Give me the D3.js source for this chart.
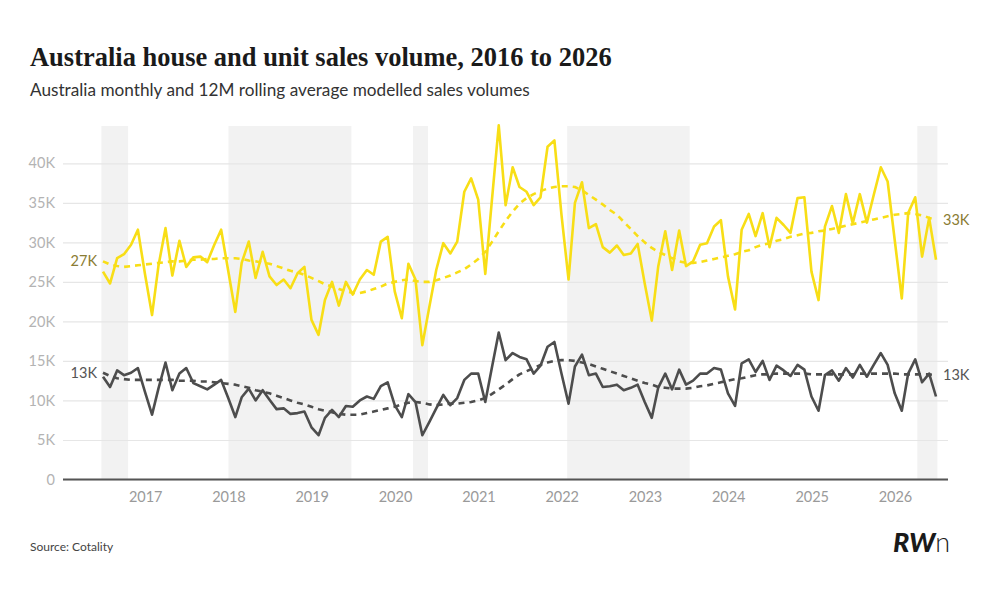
<!DOCTYPE html>
<html>
<head>
<meta charset="utf-8">
<script src="https://cdn.jsdelivr.net/npm/d3@7"></script>
<style>
  body { margin: 0; background: #fff; }
  svg { display: block; font-family: Lato, "Open Sans", sans-serif; }
</style>
</head>
<body>
<div id="chart"></div>
<script>
// monthly series, June 2016 .. June 2026, thousands of sales
const startYear = 2016, startMonth = 6;

const houseUnitTotal = [
  26.3, 24.8, 28.0, 28.5, 29.7, 31.6, 26.0, 20.8, 27.0, 31.8, 25.8, 30.2,
  26.9, 28.1, 28.2, 27.5, 29.7, 31.6, 26.4, 21.2, 27.4, 30.1, 25.5, 28.8,
  25.7, 24.6, 25.3, 24.2, 26.1, 26.9, 20.2, 18.3, 22.7, 25.0, 22.0, 25.0,
  23.4, 25.3, 26.5, 25.9, 30.1, 30.7, 23.8, 20.4, 27.3, 25.3, 17.0, 21.9,
  26.5, 29.9, 28.6, 30.1, 36.4, 38.1, 35.4, 26.0, 35.0, 44.8, 34.7, 39.5,
  37.0, 36.4, 34.7, 35.7, 42.1, 42.9, 33.5, 25.3, 35.0, 37.6, 31.8, 32.3,
  29.4, 28.7, 29.6, 28.4, 28.6, 29.8, 24.8, 20.1, 26.9, 31.4, 26.5, 31.5,
  27.0, 27.6, 29.7, 29.9, 32.0, 32.8, 25.7, 21.5, 31.6, 33.6, 30.8, 33.7,
  29.4, 33.1, 32.2, 31.2, 35.6, 35.7, 26.3, 22.7, 32.0, 34.6, 31.2, 36.1,
  32.4, 36.1, 32.5, 36.0, 39.5, 37.7, 30.3, 22.9, 33.7, 35.7, 28.2, 33.1,
  27.8
];
const houseUnitAvg = [
  27.6, 27.2, 27.0, 26.9, 27.0, 27.1, 27.2, 27.3, 27.4, 27.5, 27.6, 27.6,
  27.7, 27.8, 27.8, 27.9, 27.9, 28.0, 28.0, 28.0, 27.9, 27.7, 27.6, 27.4,
  27.3, 27.0, 26.7, 26.4, 26.2, 25.9, 25.5, 25.1, 24.7, 24.4, 24.1, 23.8,
  23.6, 23.6, 23.8, 24.1, 24.4, 24.8, 25.0, 25.2, 25.3, 25.1, 25.0, 25.0,
  25.2, 25.5, 25.8, 26.2, 26.6, 27.2, 27.9, 28.8, 30.0, 31.4, 32.7, 33.9,
  34.9, 35.6, 36.1, 36.5, 36.8, 37.0, 37.1, 37.1, 37.0, 36.6, 36.0, 35.4,
  34.8, 34.1, 33.5, 32.6, 31.7, 30.8, 30.0, 29.3, 28.8, 28.4, 28.0, 27.6,
  27.4, 27.4, 27.5, 27.7, 27.9, 28.1, 28.3, 28.5, 28.8, 29.0, 29.4, 29.7,
  29.9, 30.2, 30.4, 30.7, 30.9, 31.1, 31.2, 31.4, 31.5, 31.7, 31.9, 32.1,
  32.3, 32.5, 32.7, 32.9, 33.1, 33.3, 33.5, 33.6, 33.7, 33.6, 33.4, 33.1,
  32.8
];
const unitOnly = [
  13.0, 11.7, 13.8, 13.2, 13.5, 14.1, 11.1, 8.2, 11.5, 14.8, 11.3, 13.4,
  14.1, 12.2, 11.8, 11.4, 12.0, 12.6, 10.3, 7.9, 10.4, 11.5, 10.0, 11.3,
  10.1, 8.9, 9.0, 8.3, 8.4, 8.6, 6.6, 5.6, 7.8, 8.8, 7.9, 9.3,
  9.2, 10.0, 10.5, 10.2, 11.8, 12.3, 9.4, 7.9, 10.8, 9.8, 5.6, 7.3,
  9.0, 10.7, 9.4, 10.3, 12.6, 13.4, 13.4, 9.8, 14.0, 18.6, 15.1, 16.0,
  15.5, 15.2, 13.4, 14.4, 16.8, 17.4, 13.4, 9.6, 14.3, 15.8, 13.2, 13.4,
  11.7, 11.8, 12.0, 11.3, 11.6, 12.0, 9.8, 7.8, 11.6, 13.4, 11.4, 13.9,
  12.0, 12.5, 13.4, 13.4, 14.1, 13.9, 10.9, 9.3, 14.7, 15.2, 13.6, 15.0,
  12.6, 14.4, 13.8, 13.1, 14.5, 13.9, 10.5, 8.7, 13.2, 13.8, 12.5, 14.1,
  12.9, 14.5, 13.0, 14.5, 16.0, 14.5, 10.9, 8.7, 13.4, 15.2, 12.3, 13.4,
  10.5
];
const unitAvg = [
  13.5, 13.1, 12.8, 12.7, 12.6, 12.6, 12.6, 12.6, 12.6, 12.6, 12.6, 12.5,
  12.5, 12.5, 12.4, 12.4, 12.3, 12.2, 12.1, 12.0, 11.8, 11.6, 11.3, 11.1,
  10.9, 10.6, 10.3, 10.0, 9.7, 9.5, 9.2, 8.9, 8.7, 8.5, 8.3, 8.2,
  8.2, 8.2, 8.4, 8.6, 8.8, 9.0, 9.2, 9.5, 9.7, 9.8, 9.7, 9.5,
  9.4, 9.5, 9.6, 9.6, 9.7, 9.8, 10.0, 10.3, 10.8, 11.4, 12.0, 12.7,
  13.3, 13.7, 14.1, 14.5, 14.8, 15.0, 15.1, 15.1, 15.0, 14.8, 14.6, 14.3,
  14.0, 13.7, 13.4, 13.1, 12.8, 12.5, 12.2, 12.0, 11.7, 11.6, 11.5, 11.5,
  11.5, 11.6, 11.8, 11.9, 12.1, 12.3, 12.5, 12.7, 12.8, 13.0, 13.2, 13.3,
  13.3, 13.4, 13.4, 13.4, 13.4, 13.4, 13.3, 13.3, 13.3, 13.3, 13.3, 13.3,
  13.3, 13.4, 13.4, 13.4, 13.4, 13.4, 13.4, 13.3, 13.3, 13.3, 13.3, 13.3,
  13.2
];
const yTicks = [0, 5, 10, 15, 20, 25, 30, 35, 40];
const bandStarts = ["2016-06-23", "2018-01-01", "2020-03-20", "2022-01-25", "2026-04-09"];
const bandEnds = ["2016-10-18", "2019-06-24", "2020-05-25", "2023-07-16", "2026-07-06"];
const startLabels = ["27K", "13K"];
const endLabels = ["33K", "13K"];

const W = 1006, H = 610;
const yellow = "#f8de16", grey = "#4d4d4d", olive = "#8a7c33";

const parse = d3.timeParse("%Y-%m-%d");
// plotted at last day of each month
const dates = houseUnitTotal.map((d, i) => new Date(startYear, startMonth + i, 0));

const svg = d3.select("#chart").append("svg")
  .attr("width", W).attr("height", H)
  .style("background", "#fff");

const x = d3.scaleTime().domain(d3.extent(dates)).range([103, 936]);
const y = d3.scaleLinear().domain([0, 45]).range([479.5, 123.8]);
const left = 63, right = 948;

// shaded periods
svg.append("g").selectAll("rect")
  .data(bandStarts.map((s, i) => [parse(s), parse(bandEnds[i])]))
  .join("rect")
  .attr("x", d => x(d[0]))
  .attr("width", d => x(d[1]) - x(d[0]))
  .attr("y", 126)
  .attr("height", y(0) - 126)
  .attr("fill", "#f2f2f2");

// grid + y labels
const yAxis = svg.append("g")
  .attr("transform", `translate(${left},0)`)
  .call(d3.axisLeft(y).tickValues(yTicks)
    .tickSize(-(right - left)).tickPadding(8)
    .tickFormat(d => d === 0 ? "0" : d + "K"));
yAxis.select(".domain").remove();
yAxis.selectAll(".tick line").attr("stroke", "#e6e6e6").attr("stroke-width", 1.2);
yAxis.selectAll(".tick text")
  .attr("fill", "#b3b3b3").style("font-size", "14.5px").style("font-family", "Lato");

// x axis, year labels
const xAxis = svg.append("g")
  .attr("transform", `translate(0,${y(0)})`)
  .call(d3.axisBottom(x).ticks(d3.timeYear.every(1))
    .tickSize(0).tickPadding(12).tickFormat(d3.timeFormat("%Y")));
xAxis.select(".domain").remove();
xAxis.selectAll(".tick text")
  .attr("fill", "#9a9a9a").style("font-size", "14.5px").style("font-family", "Lato");
svg.append("line")
  .attr("x1", left).attr("x2", right)
  .attr("y1", y(0)).attr("y2", y(0))
  .attr("stroke", "#555").attr("stroke-width", 2);

const line = d3.line()
  .x((d, i) => x(dates[i]))
  .y(d => y(d));

function drawLine(values, color, dashed) {
  svg.append("path")
    .datum(values)
    .attr("fill", "none")
    .attr("stroke", color)
    .attr("stroke-width", 2.6)
    .attr("stroke-linejoin", "round")
    .attr("stroke-dasharray", dashed ? "6,5" : null)
    .attr("d", line);
}

drawLine(unitOnly, grey, false);
drawLine(unitAvg, grey, true);
drawLine(houseUnitTotal, yellow, false);
drawLine(houseUnitAvg, yellow, true);

// value labels at both ends of the rolling averages
const avgSeries = [houseUnitAvg, unitAvg];
const labelColors = [olive, "#555"];
avgSeries.forEach((s, k) => {
  svg.append("text")
    .attr("x", x(dates[0]) - 6).attr("y", y(s[0]))
    .attr("dy", "0.35em").attr("text-anchor", "end")
    .attr("fill", labelColors[k]).style("font-size", "14.5px")
    .text(startLabels[k]);
  svg.append("text")
    .attr("x", x(dates[dates.length - 1]) + 7).attr("y", y(s[s.length - 1]))
    .attr("dy", "0.35em").attr("text-anchor", "start")
    .attr("fill", labelColors[k]).style("font-size", "14.5px")
    .text(endLabels[k]);
});

// fit a text element to a given width by scaling its font size
function fitWidth(sel, size, width) {
  const w = sel.node().getComputedTextLength();
  sel.style("font-size", (size * width / w).toFixed(2) + "px");
}

// titles
const title = svg.append("text")
  .attr("x", 30).attr("y", 66)
  .attr("fill", "#1a1a1a")
  .style("font-family", "'Liberation Serif', 'DejaVu Serif', serif")
  .style("font-weight", "bold")
  .style("font-size", "26px")
  .text("Australia house and unit sales volume, 2016 to 2026");
fitWidth(title, 26, 582);

const subtitle = svg.append("text")
  .attr("x", 30).attr("y", 96)
  .attr("fill", "#333")
  .style("font-size", "16px")
  .text("Australia monthly and 12M rolling average modelled sales volumes");
fitWidth(subtitle, 16, 500);

svg.append("text")
  .attr("x", 30).attr("y", 551)
  .attr("fill", "#444")
  .style("font-size", "12px")
  .text("Source: Cotality");

// logo
const logo = svg.append("text")
  .attr("x", 893).attr("y", 552)
  .attr("fill", "#1a1a1a")
  .style("font-size", "27px");
logo.append("tspan").style("font-weight", 900).style("font-style", "italic").text("RW");
logo.append("tspan").style("font-weight", 300).text("n");
</script>
</body>
</html>
